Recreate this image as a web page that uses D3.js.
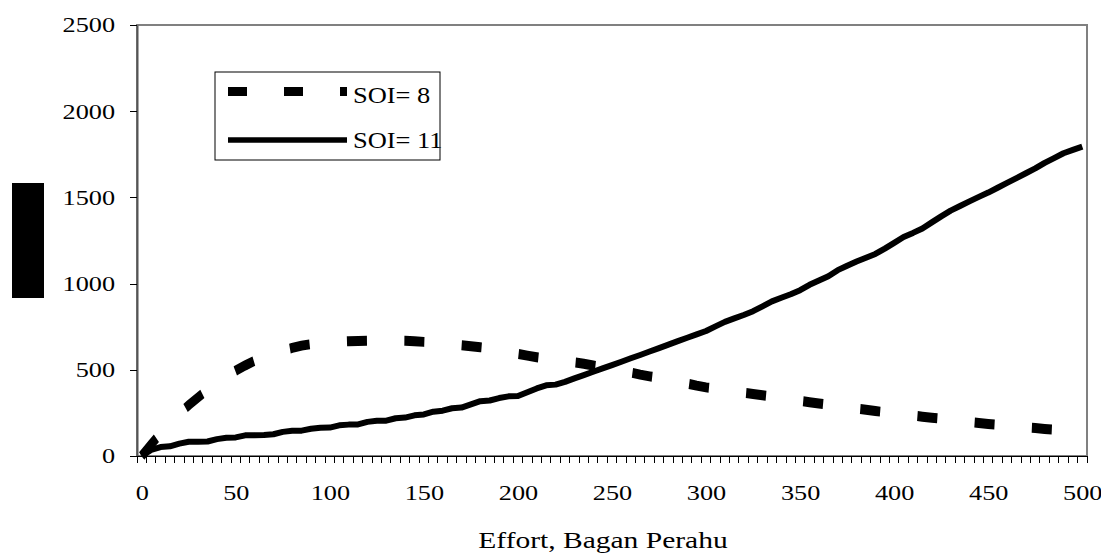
<!DOCTYPE html>
<html>
<head>
<meta charset="utf-8">
<script src="https://cdn.jsdelivr.net/npm/d3@7"></script>
<style>
  body { margin: 0; background: #fff; }
  svg text { font-family: "Liberation Serif", "Times New Roman", serif; fill: #000; }
</style>
</head>
<body>
<div id="chart"></div>
<script>
// Effort categories (Bagan Perahu), one point every 5 units
const effort = [
  0, 5, 10, 15, 20, 25, 30, 35, 40, 45, 50, 55, 60, 65, 70, 75, 80, 85, 90, 95,
  100, 105, 110, 115, 120, 125, 130, 135, 140, 145, 150, 155, 160, 165, 170, 175, 180, 185, 190, 195,
  200, 205, 210, 215, 220, 225, 230, 235, 240, 245, 250, 255, 260, 265, 270, 275, 280, 285, 290, 295,
  300, 305, 310, 315, 320, 325, 330, 335, 340, 345, 350, 355, 360, 365, 370, 375, 380, 385, 390, 395,
  400, 405, 410, 415, 420, 425, 430, 435, 440, 445, 450, 455, 460, 465, 470, 475, 480, 485, 490, 495,
  500
];

// SOI = 8 (dashed)
const soi8 = [
  0, 67, 130, 190, 245, 295, 340, 385, 425, 460, 495, 525, 552, 575, 595, 612, 627, 640, 649, 656,
  660, 663, 666, 667, 668, 669, 670, 669, 668, 666, 662, 659, 654, 649, 643, 637, 631, 624, 616, 606,
  592, 582, 573, 564, 555, 546, 543, 535, 525, 515, 505, 495, 484, 472, 462, 452, 442, 432, 420, 408,
  398, 390, 382, 374, 367, 360, 352, 344, 336, 328, 320, 312, 305, 297, 289, 282, 275, 268, 261, 254,
  248, 241, 235, 228, 222, 216, 210, 204, 198, 192, 186, 181, 176, 171, 166, 162, 157, 153, 149, 145,
  141
];

// SOI = 11 (solid)
const soi11 = [
  0, 35, 52, 56, 72, 83, 83, 84, 98, 106, 108, 120, 121, 122, 126, 140, 146, 147, 158, 164,
  165, 178, 182, 183, 198, 204, 205, 219, 223, 236, 241, 257, 263, 277, 281, 299, 318, 322, 336, 346,
  348, 370, 392, 410, 414, 430, 450, 469, 489, 508, 527, 547, 567, 586, 606, 626, 646, 666, 686, 705,
  725, 752, 778, 798, 818, 840, 868, 897, 918, 938, 962, 993, 1018, 1043, 1078, 1104, 1128, 1150, 1172, 1203,
  1236, 1270, 1294, 1320, 1355, 1390, 1423, 1450, 1477, 1503, 1528, 1556, 1584, 1612, 1640, 1668, 1700, 1728, 1756, 1776,
  1795
];

const xTickLabels = [0, 50, 100, 150, 200, 250, 300, 350, 400, 450, 500];
const yTicks = [0, 500, 1000, 1500, 2000, 2500];
const seriesNames = ['SOI= 8', 'SOI= 11'];

const W = 1101, H = 560;
const plot = { left: 137, right: 1087, top: 25, bottom: 456 };
const tickStretch = 1.25;
// the source figure was resized unevenly, so the dash pattern runs in squashed y units
const dashSquash = 1.3;

const svg = d3.select('#chart').append('svg')
  .attr('width', W)
  .attr('height', H);

// Scales: category axis (points centred between tick marks), linear value axis
const x = d3.scalePoint()
  .domain(effort)
  .range([plot.left, plot.right])
  .padding(0.5);

const xBand = d3.scaleBand()
  .domain(effort)
  .range([plot.left, plot.right]);

const y = d3.scaleLinear()
  .domain([0, 2500])
  .range([plot.bottom, plot.top]);

// Plot area frame
svg.append('rect')
  .attr('x', plot.left)
  .attr('y', plot.top)
  .attr('width', plot.right - plot.left)
  .attr('height', plot.bottom - plot.top)
  .attr('fill', 'none')
  .attr('stroke', '#808080')
  .attr('stroke-width', 2);

// Y axis
const yAxis = svg.append('g')
  .attr('transform', `translate(${plot.left},0)`)
  .call(d3.axisLeft(y).tickValues(yTicks).tickFormat(d3.format('d')).tickSize(7).tickSizeOuter(0));
yAxis.select('.domain').attr('stroke', '#555').attr('stroke-width', 2);
yAxis.selectAll('.tick line').attr('stroke', '#000').attr('shape-rendering', 'crispEdges');
yAxis.selectAll('.tick text')
  .attr('x', -22 / tickStretch)
  .attr('dy', '0.33em')
  .attr('transform', `scale(${tickStretch},1)`)
  .style('font-size', '21px')
  .style('font-family', '"Liberation Serif", serif');

// X axis line with a tick at every category boundary
const xAxis = svg.append('g').attr('shape-rendering', 'crispEdges');
xAxis.append('line')
  .attr('x1', plot.left).attr('x2', plot.right)
  .attr('y1', plot.bottom).attr('y2', plot.bottom)
  .attr('stroke', '#000');
xAxis.selectAll('.cat-tick')
  .data(effort.concat(['end']))
  .enter()
  .append('line')
  .attr('class', 'cat-tick')
  .attr('x1', d => d === 'end' ? plot.right : xBand(d))
  .attr('x2', d => d === 'end' ? plot.right : xBand(d))
  .attr('y1', plot.bottom)
  .attr('y2', plot.bottom + 7)
  .attr('stroke', '#000')
  .attr('stroke-width', 1);

const xLabels = svg.append('g')
  .attr('transform', `translate(0,${plot.bottom})`)
  .call(d3.axisBottom(x).tickValues(xTickLabels).tickSize(0));
xLabels.select('.domain').remove();
xLabels.selectAll('.tick text')
  .attr('y', 44)
  .attr('dy', 0)
  .attr('transform', `scale(${tickStretch},1)`)
  .style('font-size', '21px')
  .style('font-family', '"Liberation Serif", serif');

// Series
const line = d3.line()
  .x((d, i) => x(effort[i]))
  .y(d => y(d));

const squashedLine = d3.line()
  .x((d, i) => x(effort[i]))
  .y(d => y(d) / dashSquash);

svg.append('g')
  .attr('transform', `scale(1,${dashSquash})`)
  .append('path')
  .datum(soi8)
  .attr('fill', 'none')
  .attr('stroke', '#000')
  .attr('stroke-width', 10 / dashSquash)
  .attr('stroke-dasharray', '20,37.4')
  .attr('stroke-linejoin', 'miter')
  .attr('d', squashedLine);

svg.append('path')
  .datum(soi11)
  .attr('fill', 'none')
  .attr('stroke', '#000')
  .attr('stroke-width', 6)
  .attr('stroke-linejoin', 'round')
  .attr('d', line);

// Legend
const legend = svg.append('g');
legend.append('rect')
  .attr('x', 215).attr('y', 72)
  .attr('width', 225).attr('height', 88)
  .attr('fill', '#fff')
  .attr('stroke', '#000')
  .attr('stroke-width', 1);

legend.append('line')
  .attr('x1', 228).attr('x2', 347)
  .attr('y1', 91.5).attr('y2', 91.5)
  .attr('stroke', '#000')
  .attr('stroke-width', 9)
  .attr('stroke-dasharray', '19,37');

legend.append('line')
  .attr('x1', 228).attr('x2', 347)
  .attr('y1', 140).attr('y2', 140)
  .attr('stroke', '#000')
  .attr('stroke-width', 5.5);

legend.selectAll('.legend-label')
  .data(seriesNames)
  .enter()
  .append('text')
  .attr('class', 'legend-label')
  .attr('transform', (d, i) => `translate(353,${i === 0 ? 103 : 148}) scale(1.15,1)`)
  .style('font-size', '23px')
  .text(d => d);

// X axis title
svg.append('text')
  .attr('transform', 'translate(603,548) scale(1.23,1)')
  .attr('text-anchor', 'middle')
  .style('font-size', '24px')
  .text('Effort, Bagan Perahu');

// Y axis title is blacked out in the source figure
svg.append('rect')
  .attr('x', 12).attr('y', 183)
  .attr('width', 32).attr('height', 115)
  .attr('fill', '#000');
</script>
</body>
</html>
